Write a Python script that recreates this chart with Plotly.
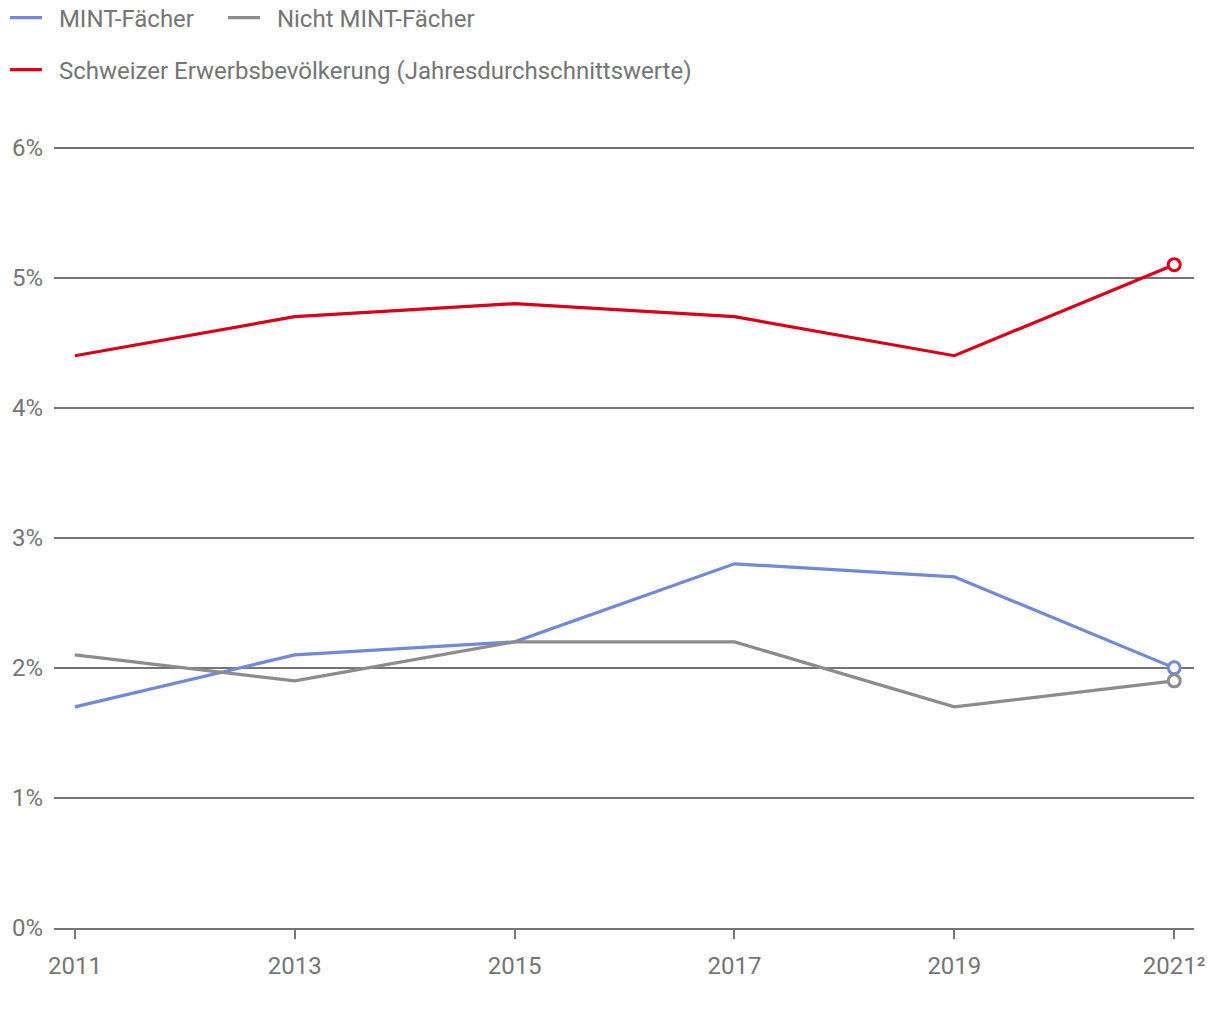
import plotly.graph_objects as go

years = [2011, 2013, 2015, 2017, 2019, 2021]
tick_labels = ["2011", "2013", "2015", "2017", "2019", "2021²"]
mint = [1.7, 2.1, 2.2, 2.8, 2.7, 2.0]
nicht_mint = [2.1, 1.9, 2.2, 2.2, 1.7, 1.9]
schweiz = [4.4, 4.7, 4.8, 4.7, 4.4, 5.1]

names = ["MINT-Fächer", "Nicht MINT-Fächer", "Schweizer Erwerbsbevölkerung (Jahresdurchschnittswerte)"]
colors = ["#7189D8", "#8C8C8C", "#D9001B"]
series = [mint, nicht_mint, schweiz]
legends = ["legend", "legend3", "legend2"]

pad = "\u00a0\u00a0"
fig = go.Figure()
for name, col, vals, lg in zip(names, colors, series, legends):
    fig.add_trace(go.Scatter(
        x=years, y=vals, name=pad + name, mode="lines",
        line=dict(color=col, width=3.2),
        legend=lg, hoverinfo="skip",
    ))
for name, col, vals, lg in zip(names, colors, series, legends):
    fig.add_trace(go.Scatter(
        x=years[-1:], y=vals[-1:], name=name, mode="markers",
        marker=dict(size=12, color="white", line=dict(color=col, width=3)),
        legend=lg, showlegend=False, hoverinfo="skip",
    ))

grey = "#757575"
leg_common = dict(orientation="h", xref="container", yref="container",
                  xanchor="left", yanchor="middle",
                  font=dict(size=24, color=grey), itemwidth=32)
fig.update_layout(
    width=1220, height=1020,
    margin=dict(l=52, r=26, t=145, b=92),
    paper_bgcolor="white", plot_bgcolor="white",
    font=dict(family="Roboto", size=24, color=grey),
    legend=dict(x=5 / 1220, y=1 - 18 / 1020, **leg_common),
    legend3=dict(x=223 / 1220, y=1 - 18 / 1020, **leg_common),
    legend2=dict(x=5 / 1220, y=1 - 70 / 1020, **leg_common),
    xaxis=dict(range=[2010.81, 2021.18], tickvals=years, ticktext=tick_labels,
               showgrid=False, zeroline=False, showline=True, linecolor=grey,
               linewidth=2, ticks="outside", ticklen=9, tickwidth=2, tickcolor=grey,
               ticklabelstandoff=6, tickfont=dict(size=24, color=grey)),
    yaxis=dict(range=[0, 6.02], dtick=1, ticksuffix="%", showgrid=True,
               gridcolor=grey, gridwidth=1.5, zeroline=False, showline=False,
               ticks="", ticklabelstandoff=10, tickfont=dict(size=24, color=grey)),
)

fig.write_html("out.html", config={"displayModeBar": False},
               post_script="document.body.style.margin='0';")
